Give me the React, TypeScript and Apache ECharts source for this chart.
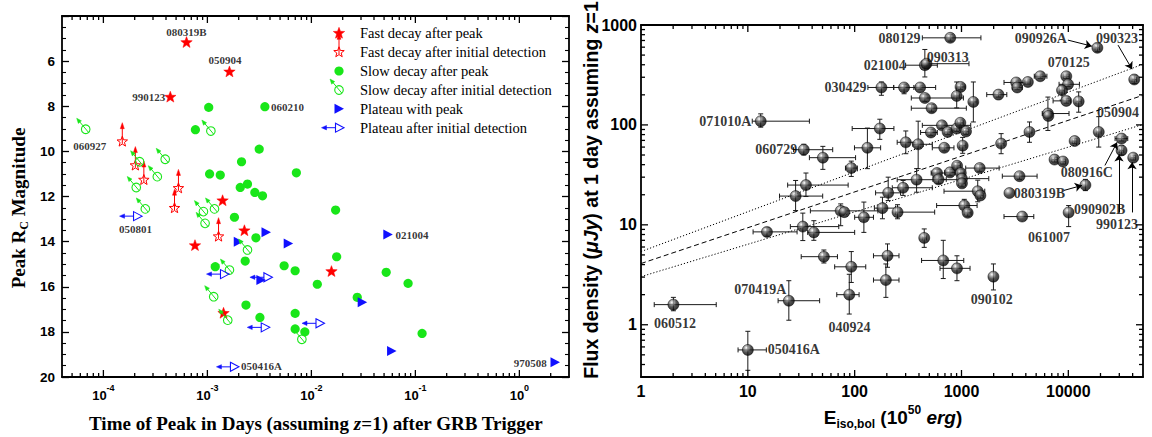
import React, { useEffect, useRef } from "react";
import * as echarts from "echarts";

const RED = "#ff0000";
const GREEN = "#19e619";
const BLUE = "#1010ff";
const SERIF = "'Liberation Serif', 'Times New Roman', serif";
const SANS = "'Liberation Sans', Arial, sans-serif";

// ---------------- Left panel data (time of peak in days, peak Rc magnitude) ----------------
const fastPeakTime = [6.3e-4, 1.63e-3, 4.4e-4, 1.4e-3, 2.27e-3, 7.6e-4, 1.43e-3, 0.0156];
const fastPeakMag = [5.18, 6.48, 7.6, 12.19, 13.52, 14.18, 17.18, 15.33];

const fastInitTime = [1.52e-4, 2.03e-4, 2.45e-4, 5.27e-4, 4.83e-4, 1.28e-3];
const fastInitMag = [9.57, 10.63, 11.27, 11.64, 12.52, 13.78];

const slowPeakTime = [1.03e-3, 3.57e-3, 7.67e-4, 3.15e-3, 2.13e-3, 1.05e-3, 1.33e-3, 7.17e-3, 2.43e-3, 2.07e-3, 2.86e-3, 3.39e-3, 1.82e-3, 0.0171, 2.93e-3, 2.31e-3, 1.19e-3, 5.47e-3, 6.98e-3, 0.0114, 2.35e-3, 3.2e-3, 6.98e-3, 6.98e-3, 8.65e-3, 0.0175, 0.0524, 0.0851, 0.0276, 0.116];
const slowPeakMag = [8.05, 8.02, 9.04, 9.9, 10.46, 11.0, 11.05, 10.95, 11.45, 11.6, 11.82, 11.97, 12.92, 12.6, 13.83, 14.86, 15.11, 15.07, 15.29, 15.89, 16.81, 17.36, 17.18, 17.87, 18.0, 14.67, 15.36, 15.85, 16.47, 18.07];

const slowInitTime = [6.76e-5, 1.08e-3, 2.23e-4, 3.93e-4, 3.3e-4, 2.07e-4, 2.53e-4, 9.16e-4, 1.17e-3, 9.5e-4, 2.43e-3, 1.63e-3, 1.15e-3, 1.57e-3, 8.1e-3];
const slowInitMag = [9.02, 9.1, 10.46, 10.35, 11.12, 11.6, 12.55, 12.67, 12.55, 13.19, 14.37, 15.26, 16.44, 17.48, 18.33];

const platPeakTime = [1.98e-3, 3.66e-3, 5.98e-3, 3.27e-3, 0.0543, 0.0308, 0.059, 2.2];
const platPeakMag = [14.0, 13.59, 14.08, 15.7, 13.68, 16.69, 18.85, 19.35];

const platInitTime = [2.13e-4, 1.46e-3, 3.82e-3, 3.6e-3, 0.0121, 1.82e-3];
const platInitMag = [12.87, 15.44, 15.58, 17.8, 17.62, 19.55];

const leftNoteText = ["080319B", "050904", "990123", "060210", "060927", "050801", "021004", "050416A", "970508"];
const leftNoteTime = [6.3e-4, 1.48e-3, 3.93e-4, 4.08e-3, 7.4e-5, 2.04e-4, 0.0644, 2.1e-3, 1.83];
const leftNoteMag = [4.71, 5.95, 7.59, 8.02, 9.76, 13.45, 13.71, 19.51, 19.37];
const leftNoteAlign = ["center", "center", "right", "left", "center", "center", "left", "left", "right"];

const legendLabels = [
  "Fast decay after peak",
  "Fast decay after initial detection",
  "Slow decay after peak",
  "Slow decay after initial detection",
  "Plateau with peak",
  "Plateau after initial detection",
];

// ---------------- Right panel data (E_iso,bol in 1e50 erg, flux density in uJy) ----------------
const grbEnergy = [13.2, 33.4, 50.4, 93, 131.6, 172, 35, 28, 74, 80, 122, 182, 252, 15.1, 32.7, 41.5, 51.5, 93, 89, 24.2, 2.01, 10, 454, 470, 785, 178, 290, 410, 980, 454, 902, 1291, 525, 301, 393, 517, 656, 742, 902, 975, 1102, 690, 1026, 206, 284, 380, 590, 610, 780, 910, 985, 1010, 1010, 1480, 1419, 1502, 1062, 1143, 2350, 4330, 2218, 3250, 3320, 4180, 5460, 9570, 9940, 8730, 9570, 12500, 6440, 6500, 11460, 19270, 31500, 31500, 40500, 7430, 8920, 3490, 2810, 14450, 10070, 3700, 448, 675, 907, 1990, 203, 196, 18700, 41400];
const grbFlux = [109, 56.5, 47, 37, 59, 92, 25, 19.4, 13.8, 13.4, 11.9, 14.7, 13.4, 8.5, 9.6, 8.4, 4.8, 3.8, 2.0, 1.74, 1.59, 0.56, 396, 410, 744, 237, 237, 237, 240, 186, 195, 170, 147, 67, 64, 84, 99, 85, 92, 105, 86, 59, 62, 20.9, 23.5, 28.3, 33, 28.5, 33.5, 39, 33, 29, 26, 37, 21.7, 19.7, 15.6, 13.2, 65, 85, 201, 266, 237, 269, 307, 307, 255, 222, 174, 172, 130, 123, 69, 85, 73, 55.6, 47, 45, 43, 30.7, 20.8, 25, 13.3, 12.1, 7.4, 4.4, 3.67, 3.03, 4.9, 2.8, 591, 285];
const grbEnergyLo = [11.0, 26.8, 37.7, 82, 99.6, 94.8, 23.6, 19.8, 38.5, 80, 100, 153, 241, 11.2, 25, 36.3, 31.6, 65, 68, 19.2, 1.33, 8.1, 300, 430, 430, 133, 232, 358, 900, 339, 850, 1200, 339, 250, 350, 414, 430, 690, 850, 920, 1040, 533, 960, 157, 225, 250, 520, 540, 700, 850, 920, 940, 940, 1095, 686, 1400, 585, 1060, 2200, 4100, 1723, 2500, 3000, 3960, 4800, 9000, 8190, 8300, 7200, 11800, 5700, 6500, 10900, 18300, 27400, 30000, 38500, 7000, 8500, 2410, 2810, 14450, 10070, 2500, 430, 423, 629, 1990, 150, 150, 17800, 39500];
const grbEnergyHi = [37.7, 62.3, 102, 106, 175, 233, 86.9, 50.2, 165, 80, 150, 241, 561, 28.9, 71, 100, 69, 127, 110, 47, 5.06, 14.9, 594, 1175, 1520, 232, 373, 573, 1080, 1042, 960, 1400, 1110, 386, 533, 594, 1220, 800, 960, 1040, 1170, 850, 1100, 269, 533, 990, 700, 720, 870, 980, 1060, 1800, 1090, 2250, 1651, 1600, 1400, 1230, 2500, 4550, 2655, 3870, 3700, 4400, 6300, 10200, 12700, 9200, 10500, 13200, 10150, 6500, 12000, 20300, 36000, 33000, 42500, 7900, 9400, 5100, 2810, 14450, 10070, 4750, 470, 1050, 1202, 1990, 260, 260, 19600, 43500];
const grbFluxLo = [95, 50, 35.9, 30.5, 36.5, 71.7, 19.2, 13.9, 9.8, 13.4, 8.4, 11.5, 11.5, 7.7, 6.96, 7.0, 4.15, 2.65, 1.28, 1.11, 1.38, 0.35, 302, 380, 690, 198, 205, 228, 225, 172, 148, 107, 135, 51.5, 36.5, 78, 92, 80, 86, 98, 80, 55, 52, 17.5, 19.7, 21.2, 30, 26, 31, 36, 30, 27, 24, 34, 17, 18.5, 13.5, 12.2, 51.5, 67, 190, 252, 225, 256, 292, 292, 242, 177, 165, 134, 88, 123, 65, 60, 69, 50, 44.5, 42.5, 40.5, 28.5, 20.8, 22, 9.6, 12.1, 5.95, 2.9, 2.76, 2.23, 3.76, 1.88, 540, 260];
const grbFluxHi = [129, 64, 61, 43.4, 93, 114, 33, 27.8, 16.2, 13.4, 16.9, 18.9, 15.9, 9.4, 13.1, 11.0, 5.6, 5.4, 3.2, 2.76, 1.88, 0.86, 569, 440, 800, 269, 255, 246, 256, 200, 269, 269, 160, 87, 109, 90, 107, 90, 98, 112, 92, 63, 75, 30, 27.8, 36.5, 36, 31, 36, 42, 36, 31, 28, 40, 28, 21, 18, 14.2, 81.8, 107, 212, 280, 250, 282, 322, 322, 268, 249, 183, 214, 190, 123, 73, 121, 77, 62, 49.5, 47.5, 45.5, 33, 20.8, 28.5, 15.6, 12.1, 9.1, 7.0, 4.9, 4.06, 6.44, 4.06, 650, 315];

const fitEnergy = [1, 50000];
const fitUpper = [5.4, 405];
const fitCentral = [4.1, 198];
const fitLower = [3.03, 101];

const rightNoteText = ["080129", "090313", "021004", "030429", "071010A", "060729", "090926A", "090323", "070125", "050904", "080916C", "080319B", "090902B", "990123", "061007", "090102", "060512", "070419A", "050416A", "040924"];
const rightNoteEnergy = [414, 472, 300, 129, 10.8, 29, 5530, 28600, 10100, 29200, 14900, 3090, 11300, 45000, 6600, 1920, 2.08, 22.9, 15.4, 89.4];
const rightNoteFlux = [739, 476, 396, 237, 109, 57, 739, 739, 425, 134, 33.5, 20.8, 14.2, 10.1, 7.5, 1.78, 1.02, 2.24, 0.56, 0.93];
const rightNoteAlign = ["right", "left", "right", "right", "right", "right", "center", "center", "center", "center", "center", "left", "left", "right", "center", "center", "center", "right", "left", "center"];

const arrowFromEnergy = [9910, 29200, 22000, 9100, 29800, 39500];
const arrowFromFlux = [706, 629, 39.3, 22.1, 13.3, 13.3];
const arrowToEnergy = [16600, 39500, 28600, 13400, 29800, 39500];
const arrowToFlux = [614, 361, 66.9, 24.8, 50.7, 42.2];

// ---------------- layout ----------------
const LEFT_GRID = { left: 62, top: 16, width: 507, height: 361 };
const RIGHT_GRID = { left: 641, top: 25, width: 502, height: 352 };
const LX_MIN = 4e-5, LX_MAX = 3, LY_MIN = 4, LY_MAX = 20;
const RX_MIN = 1, RX_MAX = 50000, RY_MIN = 0.3, RY_MAX = 1000;

// ---------------- marker shapes ----------------
function starPts(cx: number, cy: number, R: number, r: number) {
  const pts: number[][] = [];
  for (let i = 0; i < 10; i++) {
    const a = -Math.PI / 2 + (i * Math.PI) / 5;
    const rad = i % 2 === 0 ? R : r;
    pts.push([cx + rad * Math.cos(a), cy + rad * Math.sin(a)]);
  }
  return pts;
}
function arrowHead(tx: number, ty: number, fx: number, fy: number, len: number, half: number) {
  const dx = tx - fx, dy = ty - fy;
  const d = Math.sqrt(dx * dx + dy * dy) || 1;
  const ux = dx / d, uy = dy / d;
  const bx = tx - ux * len, by = ty - uy * len;
  return [[tx, ty], [bx - uy * half, by + ux * half], [bx + uy * half, by - ux * half]];
}
function fastPeakShape(cx: number, cy: number) {
  return [{ type: "polygon", shape: { points: starPts(cx, cy, 6, 2.5) }, style: { fill: RED, stroke: RED, lineWidth: 0.5 } }];
}
function fastInitShape(cx: number, cy: number) {
  return [
    { type: "line", shape: { x1: cx, y1: cy + 2, x2: cx, y2: cy - 17 }, style: { stroke: RED, lineWidth: 1 } },
    { type: "polygon", shape: { points: arrowHead(cx, cy - 19, cx, cy, 6, 2) }, style: { fill: RED, stroke: RED, lineWidth: 0.5 } },
    { type: "polygon", shape: { points: starPts(cx, cy, 5.5, 2.3) }, style: { fill: "none", stroke: RED, lineWidth: 1 } },
  ];
}
function slowPeakShape(cx: number, cy: number) {
  return [{ type: "circle", shape: { cx, cy, r: 4.6 }, style: { fill: GREEN } }];
}
function slowInitShape(cx: number, cy: number) {
  const tx = cx - 9, ty = cy - 11;
  return [
    { type: "circle", shape: { cx, cy, r: 4.3 }, style: { fill: "none", stroke: GREEN, lineWidth: 1.1 } },
    { type: "line", shape: { x1: cx + 2.9, y1: cy + 3.2, x2: tx + 1.5, y2: ty + 1.8 }, style: { stroke: GREEN, lineWidth: 1 } },
    { type: "polygon", shape: { points: arrowHead(tx, ty, cx, cy, 5, 2) }, style: { fill: GREEN, stroke: GREEN, lineWidth: 0.5 } },
  ];
}
function platPeakShape(cx: number, cy: number) {
  return [{ type: "polygon", shape: { points: [[cx - 4.5, cy - 5], [cx + 5, cy], [cx - 4.5, cy + 5]] }, style: { fill: BLUE } }];
}
function platInitShape(cx: number, cy: number) {
  const lx = cx - 18;
  return [
    { type: "line", shape: { x1: cx - 4, y1: cy, x2: lx + 2, y2: cy }, style: { stroke: BLUE, lineWidth: 1 } },
    { type: "polygon", shape: { points: arrowHead(lx, cy, cx, cy, 5, 2.2) }, style: { fill: BLUE, stroke: BLUE, lineWidth: 0.5 } },
    { type: "polygon", shape: { points: [[cx - 4, cy - 4.5], [cx + 4.5, cy], [cx - 4, cy + 4.5]] }, style: { fill: "none", stroke: BLUE, lineWidth: 1.1 } },
  ];
}

function shapeSeries(name: string, times: number[], mags: number[], shape: (x: number, y: number) => any[], z: number) {
  return {
    name,
    type: "custom",
    xAxisIndex: 0,
    yAxisIndex: 0,
    z,
    silent: true,
    encode: { x: 0, y: 1 },
    data: times.map((t, i) => [t, mags[i]]),
    renderItem: (_p: any, api: any) => {
      const p = api.coord([api.value(0), api.value(1)]);
      return { type: "group", children: shape(p[0], p[1]) };
    },
  };
}

// ---------------- frame ticks drawn as scatter marks (thin rects) ----------------
function logTickValues(min: number, max: number) {
  const out: { v: number; major: boolean }[] = [];
  for (let e = Math.floor(Math.log10(min)) - 1; e <= Math.ceil(Math.log10(max)); e++) {
    for (let k = 1; k <= 9; k++) {
      const v = k * Math.pow(10, e);
      if (v > min * 1.0001 && v < max * 0.9999) out.push({ v, major: k === 1 });
    }
  }
  return out;
}
function linTickValues(min: number, max: number, step: number, majorStep: number) {
  const out: { v: number; major: boolean }[] = [];
  for (let v = min + step; v < max - 1e-9; v += step) {
    out.push({ v, major: Math.abs(v / majorStep - Math.round(v / majorStep)) < 1e-6 });
  }
  return out;
}
function tickScatter(xi: number, yi: number, xt: any[], yt: any[], xMin: number, xMax: number, yBottom: number, yTop: number) {
  const data: any[] = [];
  xt.forEach((t) => {
    const L = t.major ? 7 : 4;
    data.push({ value: [t.v, yBottom], symbolSize: [1.3, L], symbolOffset: [0, -L / 2] });
    data.push({ value: [t.v, yTop], symbolSize: [1.3, L], symbolOffset: [0, L / 2] });
  });
  yt.forEach((t) => {
    const L = t.major ? 7 : 4;
    data.push({ value: [xMin, t.v], symbolSize: [L, 1.3], symbolOffset: [L / 2, 0] });
    data.push({ value: [xMax, t.v], symbolSize: [L, 1.3], symbolOffset: [-L / 2, 0] });
  });
  return {
    type: "scatter", xAxisIndex: xi, yAxisIndex: yi, silent: true, z: 9, clip: false,
    symbol: "rect", itemStyle: { color: "#000", opacity: 1 },
    data,
  };
}

function isPow10(v: number) {
  const l = Math.log10(v);
  return Math.abs(l - Math.round(l)) < 0.01;
}

function buildGraphics() {
  const legendX = 339, textX = 360;
  const rows = [33.3, 52.3, 71, 90, 108.7, 127.7];
  const legendShapes = [
    ...fastPeakShape(legendX, rows[0]),
    ...fastInitShape(legendX, rows[1]),
    ...slowPeakShape(legendX, rows[2]),
    ...slowInitShape(legendX, rows[3]),
    ...platPeakShape(legendX, rows[4]),
    ...platInitShape(legendX + 0.5, rows[5]),
  ];
  const legendTexts = legendLabels.map((t, i) => ({
    type: "text",
    x: textX,
    y: rows[i],
    style: { text: t, fontFamily: SERIF, fontSize: 14.5, fill: "#000", align: "left", verticalAlign: "middle" },
  }));
  const titles = [
    {
      type: "text", x: 18, y: 208, rotation: Math.PI / 2,
      style: {
        text: "Peak R{sub|C} Magnitude", fontFamily: SERIF, fontWeight: "bold", fontSize: 19, lineHeight: 24, fill: "#000",
        align: "center", verticalAlign: "middle",
        rich: { sub: { fontFamily: SERIF, fontWeight: "bold", fontSize: 12, lineHeight: 12, verticalAlign: "bottom", fill: "#000" } },
      },
    },
    {
      type: "text", x: 316, y: 423,
      style: {
        text: "Time of Peak in Days (assuming {i|z}=1) after GRB Trigger", fontFamily: SERIF, fontWeight: "bold", fontSize: 19, fill: "#000",
        align: "center", verticalAlign: "middle",
        rich: { i: { fontFamily: SERIF, fontWeight: "bold", fontStyle: "italic", fontSize: 19, fill: "#000" } },
      },
    },
    {
      type: "text", x: 591, y: 190, rotation: Math.PI / 2,
      style: {
        text: "Flux density ({i|μJy}) at 1 day assuming {i|z}=1", fontFamily: SANS, fontWeight: "bold", fontSize: 19.5, fill: "#000",
        align: "center", verticalAlign: "middle",
        rich: { i: { fontFamily: SANS, fontWeight: "bold", fontStyle: "italic", fontSize: 19.5, fill: "#000" } },
      },
    },
    {
      type: "text", x: 893, y: 417,
      style: {
        text: "E{sub|iso,bol} (10{sup|50} {i|erg})", fontFamily: SANS, fontWeight: "bold", fontSize: 19, lineHeight: 26, fill: "#000",
        align: "center", verticalAlign: "middle",
        rich: {
          sub: { fontFamily: SANS, fontWeight: "bold", fontSize: 12, lineHeight: 12, verticalAlign: "bottom", fill: "#000" },
          sup: { fontFamily: SANS, fontWeight: "bold", fontSize: 12, lineHeight: 12, verticalAlign: "top", fill: "#000" },
          i: { fontFamily: SANS, fontWeight: "bold", fontStyle: "italic", fontSize: 19, lineHeight: 26, fill: "#000" },
        },
      },
    },
  ];
  return [...legendShapes, ...legendTexts, ...titles];
}

function buildOption() {
  const axisLine = { onZero: false, lineStyle: { color: "#000", width: 1.8 } };
  const noLabel = { show: false };
  const tick = { show: true, inside: true, length: 7, lineStyle: { color: "#000", width: 1.3 } };
  const linMinor = { show: true, splitNumber: 4, length: 4, lineStyle: { color: "#000", width: 1.1 } };
  const sphere = new echarts.graphic.RadialGradient(0.36, 0.3, 0.75, [
    { offset: 0, color: "#ffffff" },
    { offset: 0.22, color: "#a0a0a0" },
    { offset: 0.55, color: "#2a2a2a" },
    { offset: 1, color: "#000000" },
  ]);
  const supRich = {
    b: { fontSize: 13, fontFamily: SANS, fontWeight: "bold", color: "#000", lineHeight: 24, verticalAlign: "middle" },
    sup: { fontSize: 9, fontFamily: SANS, fontWeight: "bold", color: "#000", lineHeight: 9, verticalAlign: "top" },
  };
  const errRows = grbEnergy.map((e, i) => [e, grbFlux[i], grbEnergyLo[i], grbEnergyHi[i], grbFluxLo[i], grbFluxHi[i]]);
  const logLabel = (v: number) => (isPow10(v) ? String(Math.round(Math.pow(10, Math.round(Math.log10(v))))) : "");

  return {
    animation: false,
    backgroundColor: "#ffffff",
    grid: [LEFT_GRID, RIGHT_GRID],
    xAxis: [
      {
        gridIndex: 0, type: "log", logBase: 10, min: LX_MIN, max: LX_MAX, position: "bottom",
        axisLine, axisTick: { show: false }, splitLine: { show: false },
        axisLabel: {
          margin: 6, showMinLabel: false, showMaxLabel: false, rich: supRich,
          formatter: (v: number) => (isPow10(v) ? `{b|10}{sup|${Math.round(Math.log10(v))}}` : ""),
        },
      },
      {
        gridIndex: 0, type: "log", logBase: 10, min: LX_MIN, max: LX_MAX, position: "top",
        axisLine, axisTick: { show: false }, splitLine: { show: false }, axisLabel: noLabel,
      },
      {
        gridIndex: 1, type: "log", logBase: 10, min: RX_MIN, max: RX_MAX, position: "bottom",
        axisLine, axisTick: { show: false }, splitLine: { show: false },
        axisLabel: { margin: 6, showMaxLabel: false, color: "#000", fontFamily: SANS, fontWeight: "bold", fontSize: 16, formatter: logLabel },
      },
      {
        gridIndex: 1, type: "log", logBase: 10, min: RX_MIN, max: RX_MAX, position: "top",
        axisLine, axisTick: { show: false }, splitLine: { show: false }, axisLabel: noLabel,
      },
    ],
    yAxis: [
      {
        gridIndex: 0, type: "value", inverse: true, min: LY_MIN, max: LY_MAX, interval: 2, position: "left",
        axisLine, axisTick: tick, minorTick: linMinor, splitLine: { show: false },
        axisLabel: {
          margin: 7, color: "#000", fontFamily: SANS, fontWeight: "bold", fontSize: 13.5,
          formatter: (v: number) => (v === LY_MIN ? "" : String(v)),
        },
      },
      {
        gridIndex: 0, type: "value", inverse: true, min: LY_MIN, max: LY_MAX, interval: 2, position: "right",
        axisLine, axisTick: tick, minorTick: linMinor, splitLine: { show: false }, axisLabel: noLabel,
      },
      {
        gridIndex: 1, type: "log", logBase: 10, min: RY_MIN, max: RY_MAX, splitNumber: 4, position: "left",
        axisLine, axisTick: { show: false }, splitLine: { show: false },
        axisLabel: { margin: 4, showMinLabel: false, color: "#000", fontFamily: SANS, fontWeight: "bold", fontSize: 16, formatter: logLabel },
      },
      {
        gridIndex: 1, type: "log", logBase: 10, min: RY_MIN, max: RY_MAX, splitNumber: 4, position: "right",
        axisLine, axisTick: { show: false }, splitLine: { show: false }, axisLabel: noLabel,
      },
    ],
    series: [
      tickScatter(0, 0, logTickValues(LX_MIN, LX_MAX), [], LX_MIN, LX_MAX, LY_MAX, LY_MIN),
      tickScatter(2, 2, logTickValues(RX_MIN, RX_MAX), logTickValues(RY_MIN, RY_MAX), RX_MIN, RX_MAX, RY_MIN, RY_MAX),
      shapeSeries("Fast decay after peak", fastPeakTime, fastPeakMag, fastPeakShape, 3),
      shapeSeries("Fast decay after initial detection", fastInitTime, fastInitMag, fastInitShape, 4),
      shapeSeries("Slow decay after peak", slowPeakTime, slowPeakMag, slowPeakShape, 3),
      shapeSeries("Slow decay after initial detection", slowInitTime, slowInitMag, slowInitShape, 4),
      shapeSeries("Plateau with peak", platPeakTime, platPeakMag, platPeakShape, 3),
      shapeSeries("Plateau after initial detection", platInitTime, platInitMag, platInitShape, 4),
      {
        type: "scatter", xAxisIndex: 0, yAxisIndex: 0, z: 6, silent: true,
        symbolSize: 1, itemStyle: { color: "rgba(0,0,0,0)" },
        data: leftNoteText.map((n, i) => ({
          name: n, value: [leftNoteTime[i], leftNoteMag[i]],
          label: { align: leftNoteAlign[i] },
        })),
        label: {
          show: true, position: "inside", formatter: "{b}", color: "#000",
          fontFamily: SERIF, fontWeight: "bold", fontSize: 11, verticalAlign: "middle",
        },
      },
      {
        type: "line", xAxisIndex: 2, yAxisIndex: 2, showSymbol: false, silent: true, z: 2,
        data: fitEnergy.map((e, i) => [e, fitUpper[i]]),
        lineStyle: { color: "#000", width: 1, type: [1.2, 2] },
      },
      {
        type: "line", xAxisIndex: 2, yAxisIndex: 2, showSymbol: false, silent: true, z: 2,
        data: fitEnergy.map((e, i) => [e, fitCentral[i]]),
        lineStyle: { color: "#000", width: 1, type: [5, 3] },
      },
      {
        type: "line", xAxisIndex: 2, yAxisIndex: 2, showSymbol: false, silent: true, z: 2,
        data: fitEnergy.map((e, i) => [e, fitLower[i]]),
        lineStyle: { color: "#000", width: 1, type: [1.2, 2] },
      },
      {
        type: "custom", xAxisIndex: 2, yAxisIndex: 2, silent: true, z: 3,
        encode: { x: 0, y: 1 },
        data: errRows,
        renderItem: (_p: any, api: any) => {
          const e = api.value(0), f = api.value(1), el = api.value(2), eh = api.value(3), fl = api.value(4), fh = api.value(5);
          const c = api.coord([e, f]);
          const st = { stroke: "#1a1a1a", lineWidth: 1 };
          const cap = 2.5;
          const ch: any[] = [];
          if (eh > el) {
            const a = api.coord([el, f]), b = api.coord([eh, f]);
            ch.push({ type: "line", shape: { x1: a[0], y1: c[1], x2: b[0], y2: c[1] }, style: st });
            ch.push({ type: "line", shape: { x1: a[0], y1: c[1] - cap, x2: a[0], y2: c[1] + cap }, style: st });
            ch.push({ type: "line", shape: { x1: b[0], y1: c[1] - cap, x2: b[0], y2: c[1] + cap }, style: st });
          }
          if (fh > fl) {
            const a = api.coord([e, fh]), b = api.coord([e, fl]);
            ch.push({ type: "line", shape: { x1: c[0], y1: a[1], x2: c[0], y2: b[1] }, style: st });
            ch.push({ type: "line", shape: { x1: c[0] - cap, y1: a[1], x2: c[0] + cap, y2: a[1] }, style: st });
            ch.push({ type: "line", shape: { x1: c[0] - cap, y1: b[1], x2: c[0] + cap, y2: b[1] }, style: st });
          }
          return { type: "group", children: ch };
        },
      },
      {
        type: "scatter", xAxisIndex: 2, yAxisIndex: 2, z: 4, silent: true,
        symbol: "circle", symbolSize: 11,
        itemStyle: { color: sphere, borderColor: "#000", borderWidth: 0.6 },
        data: grbEnergy.map((e, i) => [e, grbFlux[i]]),
      },
      {
        type: "lines", coordinateSystem: "cartesian2d", xAxisIndex: 2, yAxisIndex: 2, z: 5, silent: true,
        symbol: ["none", "arrow"], symbolSize: 7,
        lineStyle: { color: "#000", width: 1, opacity: 1, curveness: 0 },
        data: arrowFromEnergy.map((e, i) => ({ coords: [[e, arrowFromFlux[i]], [arrowToEnergy[i], arrowToFlux[i]]] })),
      },
      {
        type: "scatter", xAxisIndex: 2, yAxisIndex: 2, z: 6, silent: true,
        symbolSize: 1, itemStyle: { color: "rgba(0,0,0,0)" },
        data: rightNoteText.map((n, i) => ({
          name: n, value: [rightNoteEnergy[i], rightNoteFlux[i]],
          label: { align: rightNoteAlign[i] },
        })),
        label: {
          show: true, position: "inside", formatter: "{b}", color: "#000",
          fontFamily: SERIF, fontWeight: "bold", fontSize: 14, verticalAlign: "middle",
        },
      },
    ],
  };
}

export default function App() {
  const ref = useRef<HTMLDivElement>(null);
  useEffect(() => {
    if (!ref.current) return;
    const chart = echarts.init(ref.current, null, { renderer: "svg" });
    chart.setOption(buildOption() as any);
    chart.setOption({ graphic: { elements: buildGraphics() } } as any);
    return () => chart.dispose();
  }, []);
  return (
    <div
      ref={ref}
      style={{ position: "fixed", left: 0, top: 0, width: 1152, height: 437, background: "#fff" }}
    />
  );
}
